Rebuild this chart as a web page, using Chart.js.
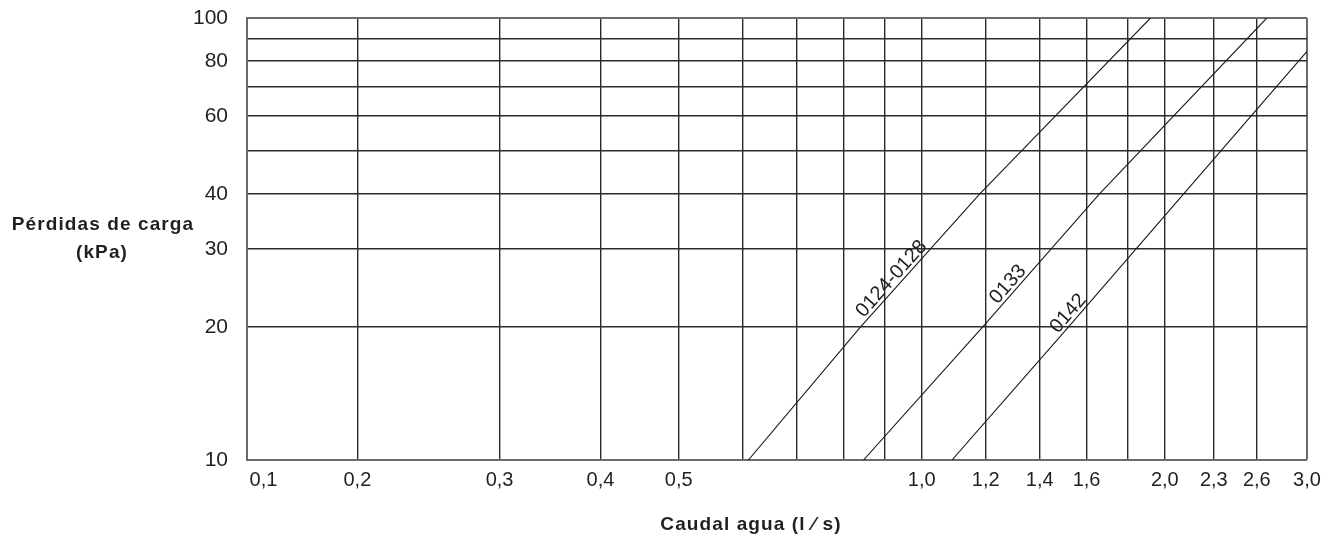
<!DOCTYPE html>
<html lang="es">
<head>
<meta charset="utf-8" />
<title>Pérdidas de carga</title>
<script src="https://cdn.jsdelivr.net/npm/chart.js"></script>
<style>
  html, body { margin: 0; padding: 0; background: #fff; }
  #wrap { width: 1335px; height: 536px; }
</style>
</head>
<body>
<div id="wrap"><canvas id="lossChart" width="1335" height="536"></canvas></div>
<script>
// x axis: caudal agua (l/s), log scale
const flowMin = 0.146;
const flowMax = 3.0;
const flowTicks = [0.153, 0.2, 0.3, 0.4, 0.5, 0.6, 0.7, 0.8, 0.9, 1.0, 1.2, 1.4, 1.6, 1.8, 2.0, 2.3, 2.6, 3.0];
const flowTickLabels = ['0,1', '0,2', '0,3', '0,4', '0,5', '', '', '', '', '1,0', '1,2', '1,4', '1,6', '', '2,0', '2,3', '2,6', '3,0'];

// y axis: pérdidas de carga (kPa), log scale
const lossMin = 10;
const lossMax = 100;
const lossTicks = [10, 20, 30, 40, 50, 60, 70, 80, 90, 100];
const lossTickLabels = ['10', '20', '30', '40', '', '60', '', '80', '', '100'];

// curves
const seriesNames = ['0124-0128', '0133', '0142'];
const flow0124 = [0.61, 0.84, 1.18, 1.92];
const loss0124 = [10, 20, 40, 100];
const flow0133 = [0.847, 1.19, 1.66, 2.675];
const loss0133 = [10, 20, 40, 100];
const flow0142 = [1.09, 1.52, 3.0];
const loss0142 = [10, 20, 84];
// where along each curve its name sits (kPa)
const labelLoss = [24.9, 24.2, 20.8];

const xTitle = 'Caudal agua (l ⁄ s)';
const yTitle = ['Pérdidas de carga', '(kPa)'];

const ink = '#231f20';
const frame = '#6a6a6a';

function toPoints(xs, ys) {
  return xs.map((x, i) => ({ x: x, y: ys[i] }));
}

const curves = [
  toPoints(flow0124, loss0124),
  toPoints(flow0133, loss0133),
  toPoints(flow0142, loss0142)
];

// curve names along the lines + axis titles
const annotate = {
  id: 'annotate',
  afterDatasetsDraw(chart) {
    const { ctx, scales } = chart;
    ctx.save();
    ctx.fillStyle = ink;
    ctx.font = '20px "Liberation Sans", Arial, sans-serif';
    chart.data.datasets.forEach((ds, i) => {
      const pts = chart.getDatasetMeta(i).data;
      const yPix = scales.y.getPixelForValue(labelLoss[i]);
      for (let k = 1; k < pts.length; k++) {
        const a = pts[k - 1], b = pts[k];
        if (yPix <= a.y && yPix >= b.y) {
          const t = (a.y - yPix) / (a.y - b.y);
          const x = a.x + t * (b.x - a.x);
          const ang = Math.atan2(b.y - a.y, b.x - a.x);
          ctx.save();
          ctx.translate(x, yPix);
          ctx.rotate(ang);
          ctx.textAlign = 'center';
          ctx.textBaseline = 'bottom';
          ctx.fillText(ds.label, 0, 1);
          ctx.restore();
          break;
        }
      }
    });

    ctx.font = 'bold 19px "Liberation Sans", Arial, sans-serif';
    ctx.letterSpacing = '1.1px';
    ctx.textAlign = 'center';
    ctx.textBaseline = 'middle';
    ctx.fillText(yTitle[0], 103, 225);
    ctx.fillText(yTitle[1], 102, 253);
    ctx.fillText(xTitle, 751, 525);
    ctx.restore();
  }
};

const canvas = document.getElementById('lossChart');

new Chart(canvas, {
  type: 'line',
  data: {
    datasets: curves.map((pts, i) => ({
      label: seriesNames[i],
      data: pts,
      borderColor: '#1a1a1a',
      borderWidth: 1.1,
      pointRadius: 0,
      tension: 0,
      fill: false
    }))
  },
  options: {
    responsive: false,
    devicePixelRatio: 1,
    animation: false,
    layout: { padding: { top: 18, right: 28, left: 0, bottom: 0 } },
    plugins: {
      legend: { display: false },
      tooltip: { enabled: false }
    },
    scales: {
      x: {
        type: 'logarithmic',
        min: flowMin,
        max: flowMax,
        afterBuildTicks: s => { s.ticks = flowTicks.map(v => ({ value: v })); },
        afterFit: s => { s.height = 76; s.paddingLeft = 0; s.paddingRight = 0; },
        ticks: {
          autoSkip: false,
          maxRotation: 0,
          padding: 8,
          color: ink,
          font: { family: '"Liberation Sans", Arial, sans-serif', size: 20 },
          callback: (v, i) => flowTickLabels[i]
        },
        grid: {
          drawTicks: false,
          color: c => c.index === 0 ? 'rgba(0,0,0,0)' : (c.tick && c.tick.value === flowMax ? frame : '#2b2b2b'),
          lineWidth: c => c.tick && c.tick.value === flowMax ? 2 : 1.4
        },
        border: { color: frame, width: 2 }
      },
      y: {
        type: 'logarithmic',
        min: lossMin,
        max: lossMax,
        afterBuildTicks: s => { s.ticks = lossTicks.map(v => ({ value: v })); },
        afterFit: s => { s.width = 247; s.paddingTop = 0; s.paddingBottom = 0; },
        ticks: {
          autoSkip: false,
          padding: 19,
          color: ink,
          font: { family: '"Liberation Sans", Arial, sans-serif', size: 21 },
          callback: (v, i) => lossTickLabels[i]
        },
        grid: {
          drawTicks: false,
          color: c => c.tick && c.tick.value === lossMax ? frame : '#2b2b2b',
          lineWidth: c => c.tick && c.tick.value === lossMax ? 2 : 1.4
        },
        border: { color: frame, width: 2 }
      }
    }
  },
  plugins: [annotate]
});
</script>
</body>
</html>
